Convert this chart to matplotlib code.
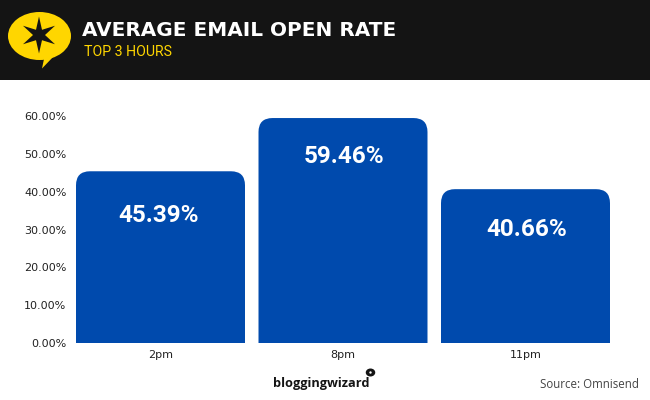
import numpy as np
import matplotlib
matplotlib.use("Agg")
import matplotlib.pyplot as plt
from matplotlib.patches import Rectangle, Ellipse, Polygon, PathPatch
from matplotlib.path import Path

categories = ["2pm", "8pm", "11pm"]
open_rates = [45.39, 59.46, 40.66]
y_ticks = [0, 10, 20, 30, 40, 50, 60]
title = "AVERAGE EMAIL OPEN RATE"
subtitle = "TOP 3 HOURS"
source = "Source: Omnisend"
brand = "bloggingwizard"
label_drop_px = [44, 38, 40]
label_shift_px = [-2, 1, 1]

W, H = 650, 400
BLUE = "#004AAD"
YELLOW = "#FFD600"
DARK = "#141414"
TXT = "#222222"

fig = plt.figure(figsize=(6.5, 4), dpi=100, facecolor="white")

def px_rect(l, t, r, b):
    return [l / W, 1 - b / H, (r - l) / W, (b - t) / H]

ov = fig.add_axes([0, 0, 1, 1], zorder=0)
ov.set_xlim(0, W); ov.set_ylim(H, 0); ov.axis("off")
ov.add_patch(Rectangle((0, 0), W, 80, fc=DARK, ec="none"))
ov.add_patch(Ellipse((39.5, 36), 63, 48, fc=YELLOW, ec="none"))
ov.add_patch(Polygon([[38, 56], [54, 56], [42, 68.5], [44, 59]], fc=YELLOW, ec="none"))
cx, cy = 39, 35
angles = np.deg2rad(np.arange(-90, 270, 30))
radii = np.tile([18.5, 6], 6)
ov.add_patch(Polygon(np.c_[cx + radii * np.cos(angles), cy + radii * np.sin(angles)], fc=DARK, ec="none"))
ov.text(82, 31, title, color="white", family="DejaVu Sans", weight="bold", fontsize=14.4, va="center", ha="left")
ov.text(84, 52, subtitle, color=YELLOW, family="Roboto", fontsize=10.2, va="center", ha="left")
ov.text(273, 383, brand, color=DARK, family="Open Sans", weight="bold", fontsize=9.2, va="center", ha="left")
ov.add_patch(Ellipse((370.5, 372.5), 9.5, 8, fc=DARK, ec="none"))
ov.add_patch(Ellipse((370.5, 372.5), 2.4, 2.4, fc="white", ec="none"))
ov.text(639, 384, source, color="#444444", family="Open Sans", fontsize=8.3, va="center", ha="right")

ax = fig.add_axes(px_rect(69.25, 116, 616.75, 343), zorder=1)
ax.patch.set_alpha(0)
ax.set_xlim(-0.5, 2.5)
ax.set_ylim(0, 60)
x = np.arange(len(categories))
bars = ax.bar(x, open_rates, width=0.926, color="none", edgecolor="none")
fig.canvas.draw()
to_px = ax.transData
R = 14
for b, v, drop, shift in zip(bars, open_rates, label_drop_px, label_shift_px):
    (x0, y0) = to_px.transform((b.get_x(), 0))
    (x1, y1) = to_px.transform((b.get_x() + b.get_width(), v))
    verts = [(x0, y0), (x0, y1 - R), (x0, y1), (x0 + R, y1), (x1 - R, y1), (x1, y1), (x1, y1 - R), (x1, y0), (x0, y0)]
    codes = [Path.MOVETO, Path.LINETO, Path.CURVE3, Path.CURVE3, Path.LINETO, Path.CURVE3, Path.CURVE3, Path.LINETO, Path.CLOSEPOLY]
    ax.add_patch(PathPatch(Path(verts, codes), fc=BLUE, ec="none", transform=None, clip_on=False))
    ax.annotate(f"{v:.2f}%", (b.get_x() + b.get_width() / 2, v), xytext=(shift * 0.72, -drop * 0.72),
                textcoords="offset points", ha="center", va="center", color="white",
                family="Roboto", weight="bold", fontsize=17.5)

for s in ax.spines.values():
    s.set_visible(False)
ax.set_xticks(x, categories)
ax.set_yticks(y_ticks, [f"{t:.2f}%" for t in y_ticks])
ax.tick_params(length=0, colors=TXT, labelsize=8, labelfontfamily="DejaVu Sans")
ax.tick_params(axis="x", pad=5)
ax.tick_params(axis="y", pad=2)
fig.savefig("out.png", dpi=100)
